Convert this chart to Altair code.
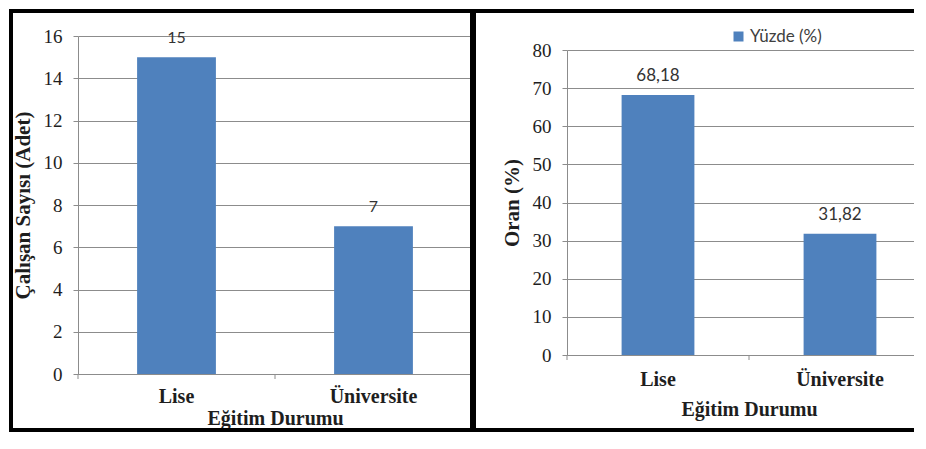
import altair as alt
import pandas as pd

# ---- data ----
categories = ["Lise", "Üniversite"]
counts = [15, 7]
count_labels = ["15", "7"]
percents = [68.18, 31.82]
percent_labels = ["68,18", "31,82"]
series_name = "Yüzde (%)"
left_ticks = [0, 2, 4, 6, 8, 10, 12, 14, 16]
right_ticks = [0, 10, 20, 30, 40, 50, 60, 70, 80]

BLUE = "#4F81BD"
GRID = "#8c8c8c"
TXT = "#1e1e1e"
SERIF = "Liberation Serif"
SANS = "Lato"

df1 = pd.DataFrame({"egitim": categories, "adet": counts, "label": count_labels})
df2 = pd.DataFrame({"egitim": categories, "oran": percents, "label": percent_labels,
                    "seri": [series_name] * len(categories)})
one = pd.DataFrame({"k": [0]})

W1, H1 = 394, 338
W2, H2 = 364, 319      # right view shares the top edge of the left one
R2_TOP = 14            # right value axis starts 14px below the shared top
FRAME_TOP, FRAME_BOTTOM = -25, 394


def x_enc(label_pad, title_pad):
    return alt.X(
        "egitim:N", sort=categories,
        scale=alt.Scale(paddingInner=0.6, paddingOuter=0.3),
        axis=alt.Axis(title="Eğitim Durumu", labelAngle=0, ticks=False,
                      domainColor=GRID, domainWidth=1,
                      labelFont=SERIF, labelFontWeight="bold", labelFontSize=20,
                      labelColor=TXT, labelPadding=label_pad,
                      titleFont=SERIF, titleFontSize=20, titleFontWeight="bold",
                      titleColor=TXT, titlePadding=title_pad))


def y_axis(title, values):
    return alt.Axis(title=title, values=values, grid=True, gridColor=GRID, gridWidth=1,
                    domainColor=GRID, tickColor=GRID, tickSize=5, labelOverlap=False,
                    labelFont=SERIF, labelFontSize=19, labelColor=TXT, labelPadding=11,
                    titleFont=SERIF, titleFontSize=21, titleFontWeight="bold",
                    titleColor=TXT, titlePadding=10)


def xticks(w, h):
    base = alt.Chart(one)
    return alt.layer(*[
        base.mark_rule(color=GRID, strokeWidth=1).encode(
            x=alt.value(xv), y=alt.value(h), y2=alt.value(h + 5))
        for xv in (0, w / 2)
    ])


def frame(x, x2, y, y2):
    return alt.Chart(one).mark_rect(fill="transparent", stroke="black", strokeWidth=4).encode(
        x=alt.value(x), x2=alt.value(x2), y=alt.value(y), y2=alt.value(y2))


# ---- left panel ----
base1 = alt.Chart(df1).encode(
    x=x_enc(12, 2),
    y=alt.Y("adet:Q", scale=alt.Scale(domain=[0, 16]),
            axis=y_axis("Çalışan Sayısı (Adet)", left_ticks)))
bars1 = base1.mark_bar(color=BLUE)
text1 = base1.mark_text(dy=-19, font=SANS, fontSize=16, color="#333333").encode(text="label:N")
left = alt.layer(bars1, text1, xticks(W1, H1),
                 frame(-67, 396, FRAME_TOP, FRAME_BOTTOM)).properties(width=W1, height=H1)

# ---- right panel ----
base2 = alt.Chart(df2).encode(
    x=x_enc(14, 10),
    y=alt.Y("oran:Q", scale=alt.Scale(domain=[0, 80], range=[H2, R2_TOP]),
            axis=y_axis("Oran (%)", right_ticks)))
bars2 = base2.mark_bar().encode(
    color=alt.Color("seri:N", scale=alt.Scale(domain=[series_name], range=[BLUE]),
                    legend=alt.Legend(title=None, orient="none", legendX=163, legendY=-8,
                                      padding=0, symbolType="square", symbolSize=100,
                                      symbolStrokeWidth=0, labelOffset=3,
                                      labelFont=SANS, labelFontSize=17,
                                      labelColor="#404040")))
text2 = base2.mark_text(dy=-19, font=SANS, fontSize=17, color="#333333").encode(text="label:N")
right = alt.layer(bars2, text2, xticks(W2, H2),
                  frame(-95, W2 + 4, FRAME_TOP, FRAME_BOTTOM)).properties(width=W2, height=H2)

chart = alt.concat(left, right, columns=2, spacing=-8, align="none").resolve_scale(
    color="independent").properties(
    padding={"left": 0, "top": 0, "right": -24, "bottom": 0},
    background="white",
).configure_view(stroke="transparent")

chart.save("out.html", embed_options={"renderer": "svg", "actions": False})
